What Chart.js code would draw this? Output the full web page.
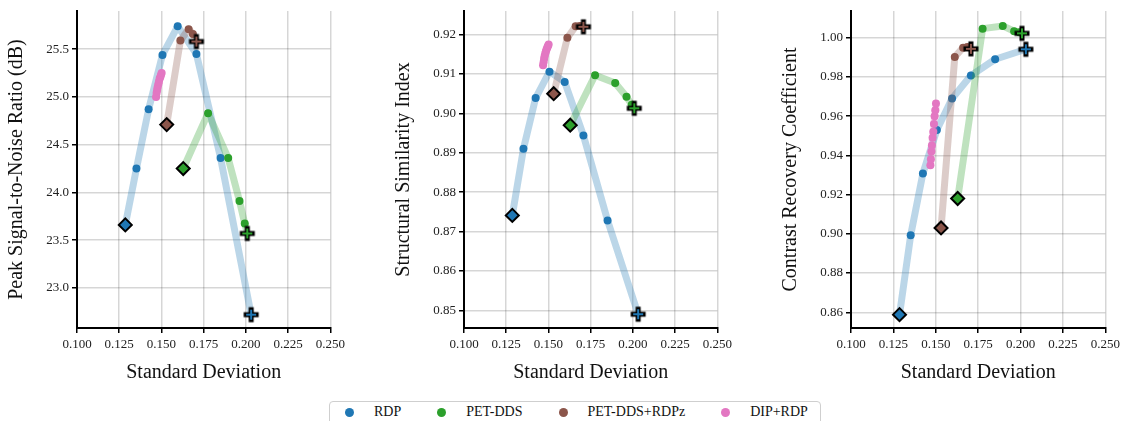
<!DOCTYPE html>
<html>
<head>
<meta charset="utf-8">
<script src="https://cdn.jsdelivr.net/npm/chart.js@4.4.0/dist/chart.umd.min.js"></script>
<style>
  body { margin: 0; width: 1123px; height: 421px; overflow: hidden; background: #fff; position: relative; font-family: "Liberation Serif", serif; }
  canvas { position: absolute; top: 0; }
  #legend { position: absolute; left: 329px; top: 401px; width: 492px; height: 30px; box-sizing: border-box;
            border: 1.5px solid #cfcfcf; border-radius: 4px; display: flex; padding: 2px 0 0 15px; font-size: 14px;
            line-height: 16px; color: #111; white-space: nowrap; }
  .item { display: flex; align-items: center; margin-right: 36px; height: 16px; }
  .dot { width: 9px; height: 9px; border-radius: 50%; margin-right: 20px; flex: none; }
</style>
</head>
<body>
<canvas id="psnr" width="349" height="390" style="left:0px"></canvas>
<canvas id="ssim" width="349" height="390" style="left:387px"></canvas>
<canvas id="crc" width="350" height="390" style="left:774px"></canvas>
<div id="legend"></div>
<script>
// x axis (standard deviation)
const stdTicks = [0.100, 0.125, 0.150, 0.175, 0.200, 0.225, 0.250];

// standard deviation of each reconstruction, per method
const rdpStd    = [0.1286, 0.1352, 0.1424, 0.1506, 0.1596, 0.1707, 0.1850, 0.2031];
const ddsStd    = [0.1629, 0.1776, 0.1895, 0.1962, 0.1993, 0.2008];
const ddsRdpStd = [0.1531, 0.1612, 0.1661, 0.1686, 0.1707];
const dipStd    = [0.1468, 0.1471, 0.1474, 0.1477, 0.1481, 0.1485, 0.1489, 0.1493, 0.1497, 0.1501];

// PSNR (dB)
const rdpPsnr    = [23.66, 24.25, 24.87, 25.44, 25.74, 25.45, 24.36, 22.72];
const ddsPsnr    = [24.25, 24.83, 24.36, 23.91, 23.675, 23.57];
const ddsRdpPsnr = [24.71, 25.59, 25.71, 25.66, 25.58];
const dipPsnr    = [25.00, 25.04, 25.07, 25.10, 25.13, 25.16, 25.19, 25.21, 25.23, 25.25];

// SSIM
const rdpSsim    = [0.8741, 0.8910, 0.9039, 0.9106, 0.9080, 0.8944, 0.8728, 0.8490];
const ddsSsim    = [0.8970, 0.9097, 0.9077, 0.9042, 0.9022, 0.9013];
const ddsRdpSsim = [0.9050, 0.9192, 0.9221, 0.9222, 0.9220];
const dipSsim    = [0.9122, 0.9130, 0.9138, 0.9145, 0.9152, 0.9158, 0.9163, 0.9167, 0.9171, 0.9175];

// CRC
const rdpCrc    = [0.8588, 0.8993, 0.9308, 0.9529, 0.9690, 0.9807, 0.9890, 0.9941];
const ddsCrc    = [0.9180, 1.0046, 1.0060, 1.0033, 1.0028, 1.0022];
const ddsRdpCrc = [0.9030, 0.9902, 0.9949, 0.9952, 0.9943];
const dipCrc    = [0.9350, 0.9380, 0.9420, 0.9450, 0.9490, 0.9520, 0.9560, 0.9600, 0.9630, 0.9665];

// y ticks
const psnrTicks = [23.0, 23.5, 24.0, 24.5, 25.0, 25.5];
const ssimTicks = [0.85, 0.86, 0.87, 0.88, 0.89, 0.90, 0.91, 0.92];
const crcTicks  = [0.86, 0.88, 0.90, 0.92, 0.94, 0.96, 0.98, 1.00];

const methodNames  = ['RDP', 'PET-DDS', 'PET-DDS+RDPz', 'DIP+RDP'];
const methodColors = ['#1f77b4', '#2ca02c', '#8c564b', '#e377c2'];

const FONT = '"Liberation Serif", "Times New Roman", serif';

function alpha(hex, a) {
    const n = parseInt(hex.slice(1), 16);
    return `rgba(${n >> 16}, ${(n >> 8) & 255}, ${n & 255}, ${a})`;
}

// plus marker with black outline, used for the last point of a run
function makeCross(color) {
    const c = document.createElement('canvas');
    c.width = 20; c.height = 20;
    const g = c.getContext('2d');
    g.lineCap = 'butt';
    g.strokeStyle = '#000';
    g.lineWidth = 5;
    g.beginPath(); g.moveTo(10, 2.5); g.lineTo(10, 17.5); g.moveTo(2.5, 10); g.lineTo(17.5, 10); g.stroke();
    g.strokeStyle = color;
    g.lineWidth = 2;
    g.beginPath(); g.moveTo(10, 5); g.lineTo(10, 15); g.moveTo(5, 10); g.lineTo(15, 10); g.stroke();
    return c;
}

function makeDataset(i, xs, ys, ends) {
    const color = methodColors[i];
    const last = xs.length - 1;
    const cross = makeCross(color);
    const isFirst = c => ends && c.dataIndex === 0;
    const isLast = c => ends && c.dataIndex === last;
    return {
        label: methodNames[i],
        data: xs.map((x, k) => ({ x: x, y: ys[k] })),
        showLine: true,
        tension: 0,
        borderColor: alpha(color, 0.3),
        borderWidth: 7,
        borderCapStyle: 'round',
        borderJoinStyle: 'round',
        order: 4 - i,
        pointStyle: c => isFirst(c) ? 'rectRot' : (isLast(c) ? cross : 'circle'),
        pointRadius: c => isFirst(c) ? 6.5 : (isLast(c) ? 8 : 4),
        pointBackgroundColor: color,
        pointBorderColor: c => isFirst(c) ? '#000' : color,
        pointBorderWidth: c => isFirst(c) ? 2 : 0
    };
}

function buildChart(id, yTitle, yMin, yMax, yTicks, decimals, series) {
    const ctx = document.getElementById(id).getContext('2d');
    const tickFont = { family: FONT, size: 13 };
    const titleFont = { family: FONT, size: 20 };
    const grid = { color: 'rgba(0,0,0,0.16)', lineWidth: 1.5, tickColor: '#000', tickLength: 5, tickWidth: 1.5 };
    return new Chart(ctx, {
        type: 'scatter',
        data: {
            datasets: series.map(s => makeDataset(s[0], s[1], s[2], s[3]))
        },
        options: {
            responsive: false,
            animation: false,
            layout: { padding: { top: 11, right: 16, left: 0, bottom: 0 } },
            plugins: { legend: { display: false }, tooltip: { enabled: false } },
            scales: {
                x: {
                    type: 'linear',
                    min: 0.1,
                    max: 0.25,
                    afterBuildTicks: s => { s.ticks = stdTicks.map(v => ({ value: v })); },
                    afterFit: s => { s.height = 62; },
                    ticks: { callback: v => v.toFixed(3), font: tickFont, color: '#222', padding: 4, maxRotation: 0, autoSkip: false },
                    grid: grid,
                    border: { color: '#000', width: 2 },
                    title: { display: true, text: 'Standard Deviation', font: titleFont, color: '#111', padding: { top: 0, bottom: 5 } }
                },
                y: {
                    type: 'linear',
                    min: yMin,
                    max: yMax,
                    afterBuildTicks: s => { s.ticks = yTicks.map(v => ({ value: v })); },
                    afterFit: s => { s.width = 77; },
                    ticks: { callback: v => v.toFixed(decimals), font: tickFont, color: '#222', padding: 3, autoSkip: false },
                    grid: grid,
                    border: { color: '#000', width: 2 },
                    title: { display: true, text: yTitle, font: titleFont, color: '#111', padding: { top: 5, bottom: 0 } }
                }
            }
        }
    });
}

buildChart('psnr', 'Peak Signal-to-Noise Ratio (dB)', 22.58, 25.90, psnrTicks, 1, [
    [0, rdpStd, rdpPsnr, true],
    [1, ddsStd, ddsPsnr, true],
    [2, ddsRdpStd, ddsRdpPsnr, true],
    [3, dipStd, dipPsnr, false]
]);

buildChart('ssim', 'Structural Similarity Index', 0.8455, 0.926, ssimTicks, 2, [
    [0, rdpStd, rdpSsim, true],
    [1, ddsStd, ddsSsim, true],
    [2, ddsRdpStd, ddsRdpSsim, true],
    [3, dipStd, dipSsim, false]
]);

buildChart('crc', 'Contrast Recovery Coefficient', 0.852, 1.0136, crcTicks, 2, [
    [0, rdpStd, rdpCrc, true],
    [1, ddsStd, ddsCrc, true],
    [2, ddsRdpStd, ddsRdpCrc, true],
    [3, dipStd, dipCrc, false]
]);

// shared legend
const legend = document.getElementById('legend');
methodNames.forEach((name, i) => {
    const item = document.createElement('div');
    item.className = 'item';
    const dot = document.createElement('span');
    dot.className = 'dot';
    dot.style.background = methodColors[i];
    const label = document.createElement('span');
    label.textContent = name;
    item.appendChild(dot);
    item.appendChild(label);
    legend.appendChild(item);
});
</script>
</body>
</html>
